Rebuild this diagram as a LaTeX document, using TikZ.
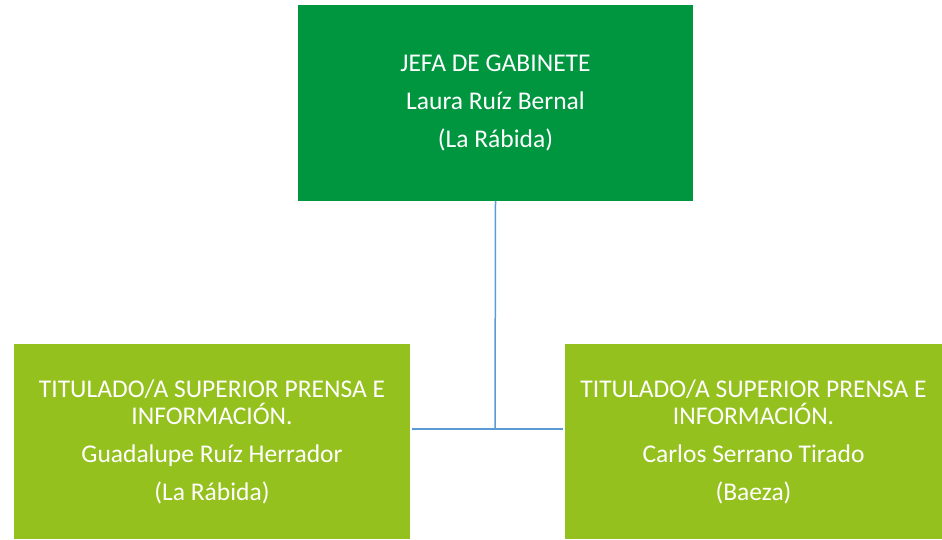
\documentclass[tikz,border=0pt]{standalone}
\usepackage{fontspec}
\setmainfont{Carlito}
\definecolor{verdeoscuro}{HTML}{009640}
\definecolor{verdeclaro}{HTML}{95C11F}
\definecolor{azullinea}{HTML}{5B9BD5}
\begin{document}
\begin{tikzpicture}
[   x=1pt,y=-1pt,
    cargo/.style={fill=#1,text=white,align=center,inner sep=0pt,
        font=\fontsize{25.5}{27}\selectfont},
    enlace/.style={draw=azullinea,line width=1.5pt},
]
    \useasboundingbox (0,0) rectangle (942,539);

    \node[cargo=verdeoscuro,minimum width=395,minimum height=196] (jefa) at (495.5,103)
        {JEFA DE GABINETE\\[11pt]Laura Ruíz Bernal\\[11pt](La Rábida)};
    \node[cargo=verdeclaro,minimum width=396,minimum height=195] (prensa-1) at (212,441.5)
        {TITULADO/A SUPERIOR PRENSA E\\INFORMACIÓN.\\[11pt]Guadalupe Ruíz Herrador\\[11pt](La Rábida)};
    \node[cargo=verdeclaro,minimum width=377,minimum height=195] (prensa-2) at (753.5,441.5)
        {TITULADO/A SUPERIOR PRENSA E\\INFORMACIÓN.\\[11pt]Carlos Serrano Tirado\\[11pt](Baeza)};

    \coordinate (cruce) at (495,429);
    \draw[enlace] (jefa.south) -- (cruce);
    \draw[enlace,shorten <=2pt,shorten >=2pt] (prensa-1.east |- cruce) -- (prensa-2.west |- cruce);
\end{tikzpicture}
\end{document}
